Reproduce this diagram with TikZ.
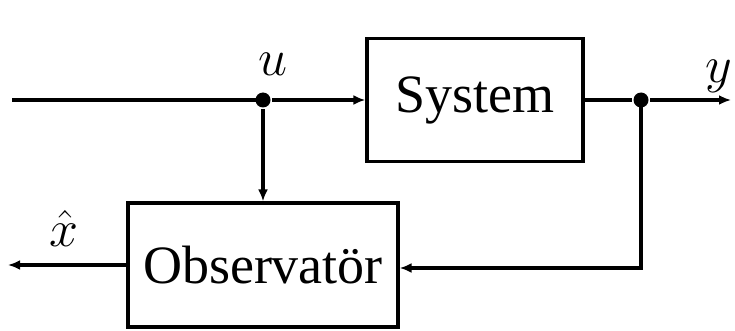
\RequirePackage{fix-cm}
\documentclass[tikz,border=0pt]{standalone}
\usepackage{fontspec}
\setmainfont{Liberation Serif}
\usetikzlibrary{arrows.meta}
\begin{document}
\begin{tikzpicture}[x=1pt,y=-1pt,line width=3.2pt,
  blk/.style={draw,inner sep=0pt,font=\fontsize{54}{60}\selectfont},
  arr/.style={-{Latex[length=12pt,width=10pt]}},
  dot/.style={circle,fill,inner sep=0pt,minimum size=15pt},
  lab/.style={inner sep=0pt,font=\fontsize{52}{60}\selectfont}]
\useasboundingbox (0,0) rectangle (735,331);
\node[blk,minimum width=216pt,minimum height=123pt] (sys) at (475,100) {System};
\node[blk,minimum width=270pt,minimum height=124pt] (obs) at (263,265) {Observatör};
\coordinate (in) at (12,100);
\node[dot] (u) at (263,100) {};
\node[dot] (j) at (641,100) {};
\coordinate (yout) at (731,100);
\coordinate (xout) at (8,265);
\draw (in) -- (u.center);
\draw[arr] (u) -- (sys.west);
\draw (sys.east) -- (j);
\draw[arr] (j) -- (yout);
\draw[arr] (u) -- (obs.north);
\draw[arr] (j.center) |- ([yshift=-3pt]obs.east);
\draw[arr] (obs.west) -- (xout);
\node[lab] (ulab) at (273,64) {$u$};
\node[lab] (ylab) at (719,76) {$y$};
\node[lab] (xlab) at (64,228) {$\hat{x}$};
\end{tikzpicture}
\end{document}
